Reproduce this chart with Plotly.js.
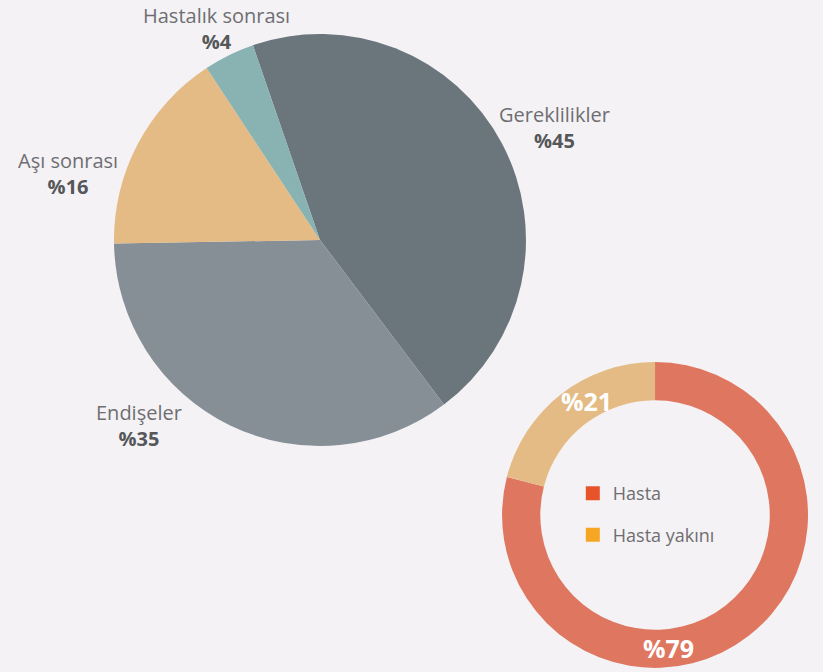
<!DOCTYPE html>
<html><head><meta charset="utf-8">
<script src="https://cdn.plot.ly/plotly-3.0.1.min.js"></script>
<style>html,body{margin:0;padding:0;background:#f4f2f5;}#chart{width:823px;height:672px;}</style>
</head><body><div id="chart"></div>
<script>
// Big pie
const pieLabels = ['Gereklilikler', 'Endişeler', 'Aşı sonrası', 'Hastalık sonrası'];
const pieValues = [45, 35, 16, 4];
const pieColors = ['#6b767c', '#878f96', '#e4bb84', '#88b3b2'];
// Donut
const donutLabels = ['Hasta', 'Hasta yakını'];
const donutValues = [79, 21];
const donutColors = ['#df7760', '#e4bb84'];
const legendColors = ['#e8542a', '#f5a623'];

// Label block centre positions (layout only, in pixels of the 823x672 page)
const pieLabelPos = [[554, 127], [139, 425], [68, 174], [216, 29]];
const donutTextPos = [[668, 648], [586, 401]];

const FONT = 'Open Sans, Noto Sans, sans-serif';
const W = 823, H = 672;

const traces = [
  {
    type: 'pie', labels: pieLabels, values: pieValues, sort: false, direction: 'clockwise',
    rotation: -19,
    marker: {colors: pieColors, line: {width: 0}},
    domain: {x: [0.1385, 0.6391], y: [0.3363, 0.9494]},
    textinfo: 'none', showlegend: false, hoverinfo: 'label+value'
  },
  {
    type: 'pie', labels: donutLabels, values: donutValues, sort: false, direction: 'clockwise',
    rotation: 0, hole: 0.75,
    marker: {colors: donutColors, line: {width: 0}},
    domain: {x: [0.61, 0.9818], y: [0.006, 0.4613]},
    textinfo: 'none', showlegend: false, hoverinfo: 'label+value'
  }
];
donutLabels.forEach((lab, i) => {
  traces.push({
    type: 'scatter', mode: 'markers', x: [null], y: [null], name: lab,
    legendgroup: 'g' + i,
    marker: {symbol: 'square', size: 14, color: legendColors[i]},
    hoverinfo: 'skip'
  });
});

const annotations = [];
pieLabels.forEach((lab, i) => {
  const [px, py] = pieLabelPos[i];
  annotations.push({xref: 'paper', yref: 'paper', x: px / W, y: 1 - py / H, xanchor: 'center', yanchor: 'middle',
    text: lab + '<br><span style="color:#555759"><b>%' + pieValues[i] + '</b></span>', showarrow: false,
    borderpad: 0, font: {family: FONT, size: 20, color: '#6e6e71'}});
});
donutValues.forEach((v, i) => {
  const [px, py] = donutTextPos[i];
  annotations.push({xref: 'paper', yref: 'paper', x: px / W, y: 1 - py / H, xanchor: 'center', yanchor: 'middle',
    text: '<b>%' + v + '</b>', showarrow: false, font: {family: FONT, size: 25, color: '#ffffff'}});
});

const layout = {
  width: W, height: H,
  margin: {l: 0, r: 0, t: 0, b: 0},
  paper_bgcolor: '#f4f2f5', plot_bgcolor: 'rgba(0,0,0,0)',
  font: {family: FONT, color: '#6e6e71'},
  xaxis: {visible: false}, yaxis: {visible: false},
  showlegend: true,
  legend: {x: 0.696, y: 0.293, xanchor: 'left', yanchor: 'top', bgcolor: 'rgba(0,0,0,0)',
           font: {family: FONT, size: 18, color: '#6e6e71'}, tracegroupgap: 15, itemwidth: 30},
  annotations: annotations
};
Plotly.newPlot('chart', traces, layout, {displayModeBar: false, staticPlot: true});
</script></body></html>
